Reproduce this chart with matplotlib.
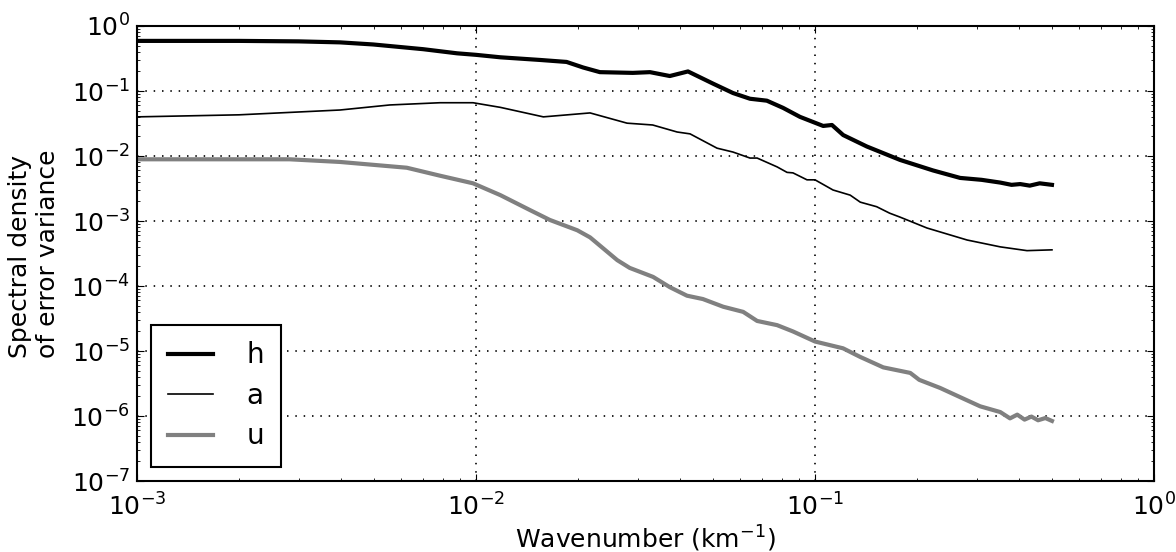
import matplotlib
matplotlib.use("Agg")
import matplotlib.pyplot as plt

# wavenumber (km^-1) and spectral density of the error variance per field
k_h = [0.001, 0.002, 0.003, 0.00397, 0.00497, 0.00698, 0.00879, 0.010, 0.0118, 0.0155,
       0.0185, 0.0207, 0.0232, 0.0290, 0.0326, 0.0373, 0.0422, 0.0500, 0.0573, 0.0643,
       0.0721, 0.0805, 0.0903, 0.1057, 0.1122, 0.1211, 0.1422, 0.1782, 0.2228,
       0.268, 0.310, 0.352, 0.380, 0.403, 0.430, 0.460, 0.50]
s_h = [0.59, 0.59, 0.58, 0.56, 0.52, 0.44, 0.38, 0.36, 0.33, 0.30,
       0.28, 0.23, 0.195, 0.19, 0.195, 0.17, 0.20, 0.13, 0.093, 0.076,
       0.071, 0.055, 0.040, 0.029, 0.030, 0.021, 0.014, 0.0087, 0.0060,
       0.0046, 0.0043, 0.0039, 0.0036, 0.0037, 0.0035, 0.0038, 0.0036]

k_a = [0.001, 0.002, 0.00397, 0.00557, 0.00783, 0.0098, 0.0118, 0.0158, 0.0217,
       0.0279, 0.0332, 0.0392, 0.0428, 0.0514, 0.0573, 0.0643, 0.0675, 0.0773,
       0.0827, 0.0861, 0.0947, 0.100, 0.113, 0.127, 0.136, 0.152, 0.166, 0.178,
       0.214, 0.281, 0.352, 0.422, 0.50]
s_a = [0.040, 0.043, 0.051, 0.061, 0.066, 0.066, 0.056, 0.040, 0.046,
       0.032, 0.030, 0.0234, 0.0219, 0.0132, 0.0115, 0.0093, 0.0093, 0.0068,
       0.0056, 0.0055, 0.0043, 0.0043, 0.0030, 0.0025, 0.00195, 0.00166, 0.00132,
       0.00115, 0.00078, 0.00051, 0.00040, 0.00035, 0.00036]

k_u = [0.001, 0.00282, 0.00397, 0.00625, 0.0078, 0.0098, 0.0118, 0.0144, 0.0165, 0.0199,
       0.0217, 0.0261, 0.0284, 0.0333, 0.0373, 0.0419, 0.0467, 0.0536, 0.0614,
       0.0675, 0.0773, 0.0861, 0.100, 0.121, 0.136, 0.159, 0.191, 0.203, 0.234,
       0.268, 0.307, 0.352, 0.376, 0.395, 0.415, 0.435, 0.455, 0.478, 0.50]
s_u = [0.0089, 0.0089, 0.0081, 0.0066, 0.0050, 0.0038, 0.0025, 0.00148, 0.00104, 0.00072,
       0.00056, 0.00025, 0.00019, 0.000138, 9.6e-5, 7.1e-5, 6.3e-5, 4.8e-5, 4.0e-5,
       2.9e-5, 2.5e-5, 2.0e-5, 1.4e-5, 1.1e-5, 8.1e-6, 5.6e-6, 4.6e-6, 3.6e-6, 2.7e-6,
       1.95e-6, 1.41e-6, 1.15e-6, 0.92e-6, 1.05e-6, 0.88e-6, 0.98e-6, 0.86e-6, 0.93e-6, 0.84e-6]

plt.rcParams.update({
    "font.family": "DejaVu Sans",
    "mathtext.fontset": "dejavusans",
    "xtick.direction": "in",
    "ytick.direction": "in",
    "xtick.top": True,
    "ytick.right": True,
    "xtick.major.size": 5,
    "ytick.major.size": 5,
    "xtick.minor.size": 2.5,
    "ytick.minor.size": 2.5,
    "axes.linewidth": 1.5,
})

fig = plt.figure(figsize=(11.76, 5.52), dpi=100)
ax = fig.add_axes([0.1165, 0.1286, 0.8648, 0.8243])

ax.loglog(k_h, s_h, color="black", lw=3, label="h")
ax.loglog(k_a, s_a, color="black", lw=1.2, label="a")
ax.loglog(k_u, s_u, color="0.5", lw=3, label="u")

ax.set_xlim(1e-3, 1)
ax.set_ylim(1e-7, 1)
ax.grid(True, which="major", color="black", linestyle=(0, (0.9, 4.1)), linewidth=1.2)
ax.tick_params(labelsize=18)
ax.tick_params(axis="x", pad=9)
ax.tick_params(axis="y", pad=5)
ax.set_xlabel("Wavenumber (km$^{-1}$)", fontsize=18, labelpad=2)
ax.set_ylabel("Spectral density\nof error variance", fontsize=18,
              multialignment="left", labelpad=8)

leg = ax.legend(loc="lower left", fontsize=20, fancybox=False, framealpha=1,
                edgecolor="black", handlelength=1.65, handletextpad=1.2,
                borderpad=0.6, labelspacing=0.45, borderaxespad=0.5)
leg.get_frame().set_linewidth(1.5)

fig.savefig("out.png", dpi=100)
